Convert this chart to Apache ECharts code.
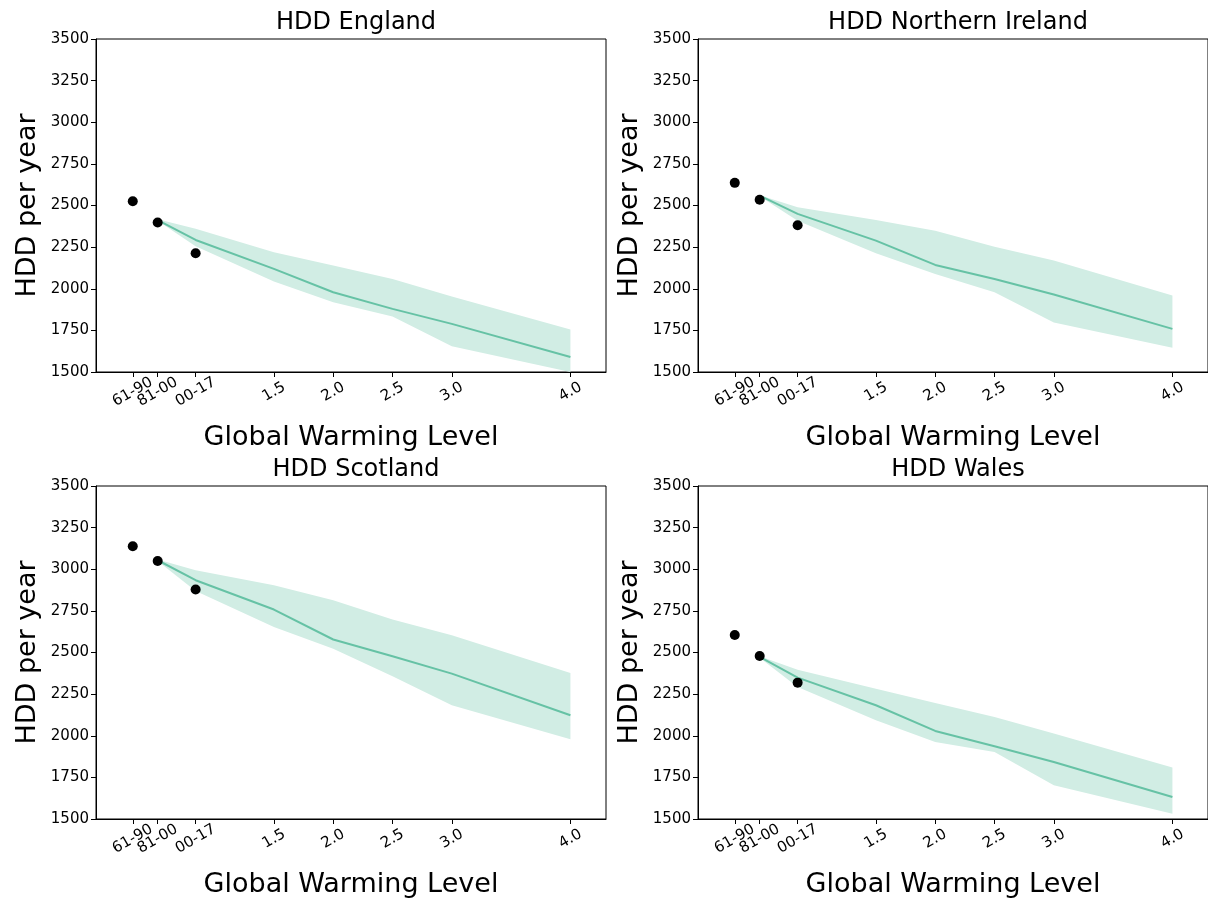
<!DOCTYPE html>
<html>
<head>
<meta charset="utf-8">
<script src="https://cdn.jsdelivr.net/npm/echarts@6/dist/echarts.min.js"></script>
<style>
html,body{margin:0;padding:0;background:#fff;}
#chart{width:1208px;height:904px;}
</style>
</head>
<body>
<div id="chart"></div>
<script>
// Tick positions (global warming level) and their labels
const tickPositions = [0.31, 0.52, 0.84, 1.5, 2.0, 2.5, 3.0, 4.0];
const tickLabels = ['61-90', '81-00', '00-17', '1.5', '2.0', '2.5', '3.0', '4.0'];
// Observed periods x positions and projection x positions
const obsX = [0.31, 0.52, 0.84];
const projX = [0.52, 0.84, 1.5, 2.0, 2.5, 3.0, 4.0];

const regionNames = ['HDD England', 'HDD Northern Ireland', 'HDD Scotland', 'HDD Wales'];

const englandObs = [2525, 2398, 2213];
const englandMean = [2412, 2293, 2119, 1979, 1879, 1789, 1590];
const englandUpper = [2418, 2360, 2219, 2139, 2059, 1953, 1755];
const englandLower = [2408, 2255, 2043, 1919, 1833, 1654, 1500];

const niObs = [2636, 2534, 2381];
const niMean = [2559, 2450, 2289, 2143, 2059, 1965, 1759];
const niUpper = [2562, 2489, 2413, 2349, 2253, 2169, 1959];
const niLower = [2556, 2409, 2213, 2089, 1979, 1798, 1645];

const scotlandObs = [3138, 3050, 2878];
const scotlandMean = [3054, 2934, 2758, 2578, 2477, 2373, 2123];
const scotlandUpper = [3058, 2994, 2904, 2814, 2698, 2603, 2377];
const scotlandLower = [3050, 2869, 2653, 2523, 2357, 2183, 1979];

const walesObs = [2605, 2479, 2319];
const walesMean = [2473, 2349, 2183, 2029, 1937, 1842, 1632];
const walesUpper = [2477, 2397, 2283, 2197, 2113, 2013, 1809];
const walesLower = [2469, 2293, 2093, 1963, 1902, 1702, 1532];

const panels = [
  {name: regionNames[0], obs: englandObs, mean: englandMean, upper: englandUpper, lower: englandLower},
  {name: regionNames[1], obs: niObs, mean: niMean, upper: niUpper, lower: niLower},
  {name: regionNames[2], obs: scotlandObs, mean: scotlandMean, upper: scotlandUpper, lower: scotlandLower},
  {name: regionNames[3], obs: walesObs, mean: walesMean, upper: walesUpper, lower: walesLower}
];

const FONT = 'DejaVu Sans';
const lineColor = '#66c2a5';
const bandColor = '#d1ede4';
const gridPos = [
  {left: 96, top: 39}, {left: 698, top: 39},
  {left: 96, top: 486}, {left: 698, top: 486}
];
const gW = 510, gH = 333;

// labels split over two overlaid axes so that adjacent labels are not hidden
const evenTicks = tickPositions.filter((v, k) => k !== 1);
const oddTicks = [tickPositions[1]];
const labelFor = v => { const k = tickPositions.indexOf(v); return k >= 0 ? tickLabels[k] : ''; };
const xLabelStyle = {rotate: 30, margin: 20, align: 'center', verticalAlign: 'middle',
  fontFamily: FONT, fontSize: 15, color: '#000', formatter: labelFor};

const grid = [], xAxis = [], yAxis = [], title = [], series = [];
panels.forEach((p, i) => {
  const g = gridPos[i];
  grid.push({left: g.left, top: g.top, width: gW, height: gH, show: true,
    borderColor: '#000', borderWidth: 1, backgroundColor: 'transparent'});
  title.push({text: p.name, left: g.left + gW / 2, top: g.top - 33, textAlign: 'center',
    textStyle: {fontFamily: FONT, fontSize: 24, fontWeight: 'normal', color: '#000'}});
  xAxis.push({
    type: 'value', gridIndex: i, min: 0, max: 4.3, position: 'bottom',
    name: 'Global Warming Level', nameLocation: 'middle', nameGap: 52,
    nameTextStyle: {fontFamily: FONT, fontSize: 27, color: '#000'},
    axisLine: {show: true, onZero: false, lineStyle: {color: '#000', width: 1}},
    axisTick: {show: true, length: 5, customValues: tickPositions, lineStyle: {color: '#000', width: 1}},
    axisLabel: Object.assign({customValues: evenTicks}, xLabelStyle),
    splitLine: {show: false}
  });
  xAxis.push({
    type: 'value', gridIndex: i, min: 0, max: 4.3, position: 'bottom', offset: 0,
    axisLine: {show: false, onZero: false},
    axisTick: {show: false},
    axisLabel: Object.assign({customValues: oddTicks}, xLabelStyle),
    splitLine: {show: false}
  });
  yAxis.push({
    type: 'value', gridIndex: i, min: 1500, max: 3500, interval: 250,
    name: 'HDD per year', nameLocation: 'middle', nameGap: 55,
    nameTextStyle: {fontFamily: FONT, fontSize: 27, color: '#000'},
    axisLine: {show: true, lineStyle: {color: '#000', width: 1}},
    axisTick: {show: true, length: 5, lineStyle: {color: '#000', width: 1}},
    axisLabel: {margin: 7, fontFamily: FONT, fontSize: 15, color: '#000', formatter: v => String(v)},
    splitLine: {show: false}
  });
  const xi = 2 * i;
  // shaded range (lower..upper), drawn through the axis scales
  series.push({
    type: 'custom', xAxisIndex: xi, yAxisIndex: i, silent: true, z: 1,
    data: projX.map((x, k) => [x, p.lower[k], p.upper[k]]),
    renderItem: (params, api) => {
      if (params.dataIndex !== 0) return null;
      const up = projX.map((x, k) => api.coord([x, p.upper[k]]));
      const lo = projX.map((x, k) => api.coord([x, p.lower[k]])).reverse();
      return {type: 'polygon', shape: {points: up.concat(lo)}, style: {fill: bandColor, stroke: null}};
    }
  });
  series.push({
    type: 'line', xAxisIndex: xi, yAxisIndex: i, symbol: 'none', silent: true,
    lineStyle: {color: lineColor, width: 2}, data: projX.map((x, k) => [x, p.mean[k]]), z: 2
  });
  series.push({
    type: 'scatter', xAxisIndex: xi, yAxisIndex: i, symbolSize: 10, silent: true,
    itemStyle: {color: '#000', opacity: 1}, data: obsX.map((x, k) => [x, p.obs[k]]), z: 3
  });
});

const chart = echarts.init(document.getElementById('chart'), null, {renderer: 'canvas'});
chart.setOption({animation: false, backgroundColor: '#fff', title, grid, xAxis, yAxis, series});
</script>
</body>
</html>
